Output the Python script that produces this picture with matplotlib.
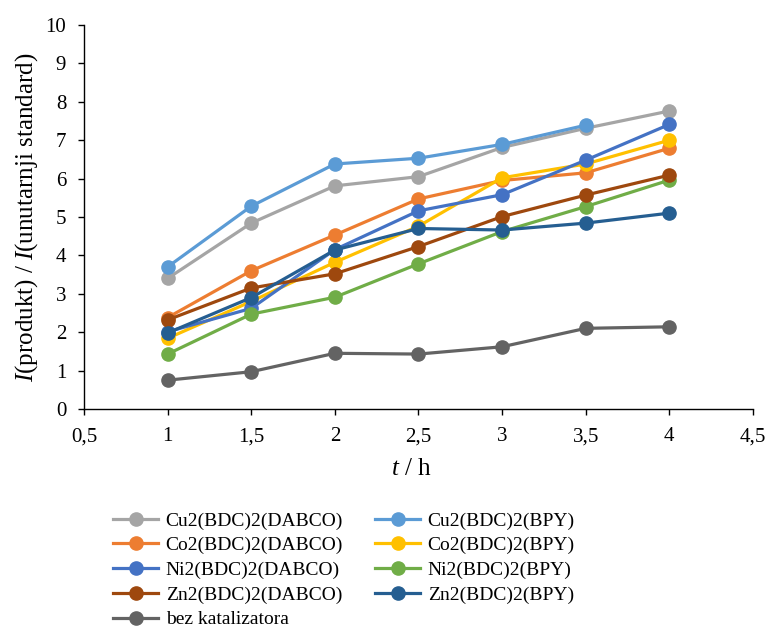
import matplotlib
matplotlib.use("Agg")
import matplotlib.pyplot as plt
import numpy as np

plt.rcParams['font.family'] = ['Liberation Serif', 'DejaVu Serif']
plt.rcParams['mathtext.fontset'] = 'custom'
plt.rcParams['mathtext.it'] = 'Liberation Serif:italic'
plt.rcParams['mathtext.rm'] = 'Liberation Serif'

# data
t = [1, 1.5, 2, 2.5, 3, 3.5, 4]
cu_dabco = [3.40, 4.84, 5.81, 6.05, 6.81, 7.31, 7.76]
cu_bpy = [3.70, 5.28, 6.38, 6.53, 6.89, 7.39, np.nan]
co_dabco = [2.38, 3.60, 4.53, 5.47, 5.95, 6.15, 6.79]
co_bpy = [1.84, 2.80, 3.82, 4.76, 6.02, 6.38, 7.00]
ni_dabco = [2.01, 2.62, 4.15, 5.16, 5.58, 6.48, 7.41]
ni_bpy = [1.43, 2.47, 2.91, 3.78, 4.62, 5.27, 5.96]
zn_dabco = [2.32, 3.15, 3.52, 4.23, 5.01, 5.57, 6.09]
zn_bpy = [1.98, 2.90, 4.14, 4.70, 4.66, 4.84, 5.10]
bez = [0.75, 0.97, 1.45, 1.43, 1.62, 2.10, 2.14]

labels = ["Cu2(BDC)2(DABCO)", "Cu2(BDC)2(BPY)", "Co2(BDC)2(DABCO)", "Co2(BDC)2(BPY)",
          "Ni2(BDC)2(DABCO)", "Ni2(BDC)2(BPY)", "Zn2(BDC)2(DABCO)", "Zn2(BDC)2(BPY)",
          "bez katalizatora"]
series = [cu_dabco, cu_bpy, co_dabco, co_bpy, ni_dabco, ni_bpy, zn_dabco, zn_bpy, bez]
colors = ["#A5A5A5", "#5B9BD5", "#ED7D31", "#FFC000", "#4472C4", "#70AD47",
          "#9E480E", "#255E91", "#636363"]

xticks = [0.5, 1, 1.5, 2, 2.5, 3, 3.5, 4, 4.5]
xticklabels = ["0,5", "1", "1,5", "2", "2,5", "3", "3,5", "4", "4,5"]

fig = plt.figure(figsize=(7.65, 6.29), dpi=100)
ax = fig.add_axes([0.1098, 0.3498, 0.8745, 0.6105])

for y, c, lab in zip(series, colors, labels):
    ax.plot(t, y, color=c, lw=2.3, marker='o', ms=9.5, label=lab)

ax.set_xlim(0.5, 4.5)
ax.set_ylim(0, 10)
ax.set_xticks(xticks)
ax.set_xticklabels(xticklabels)
ax.set_yticks(range(0, 11))
ax.tick_params(labelsize=15, length=4.3, width=1, direction='out')
ax.tick_params(axis='x', pad=9)
ax.tick_params(axis='y', pad=8.5)
for s in ['top', 'right']:
    ax.spines[s].set_visible(False)
for s in ['left', 'bottom']:
    ax.spines[s].set_color('black')
    ax.spines[s].set_linewidth(1)

ax.set_xlabel(r"$t$ / h", fontsize=18, labelpad=8)
ax.xaxis.label.set_x(0.49)
ax.set_ylabel(r"$I$(produkt) / $I$(unutarnji standard)", fontsize=18, labelpad=4)

h, l = ax.get_legend_handles_labels()
order = [0, 2, 4, 6, 8, 1, 3, 5, 7]
leg = fig.legend([h[i] for i in order], [l[i] for i in order], ncol=2, frameon=False,
                 fontsize=14, loc='upper left', bbox_to_anchor=(0.148, 0.186),
                 handlelength=2.3, handletextpad=0.4, columnspacing=1.65,
                 labelspacing=0.36, borderaxespad=0, borderpad=0)

fig.savefig("out.png", dpi=100)
